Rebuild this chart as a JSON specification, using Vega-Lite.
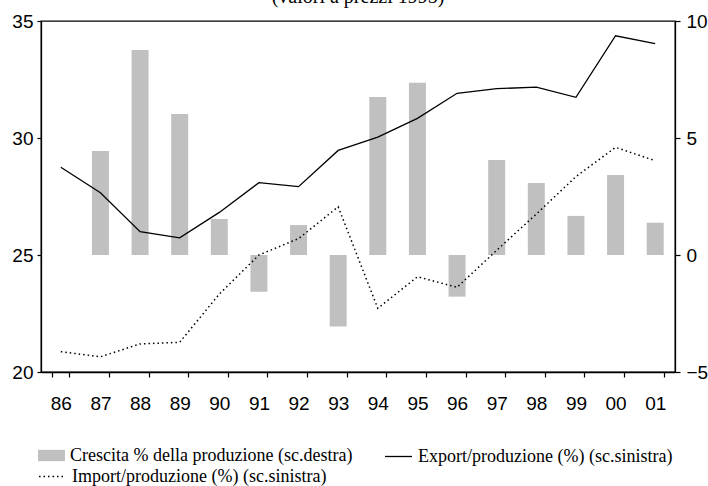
{
  "$schema": "https://vega.github.io/schema/vega-lite/v6.json",
  "width": 634,
  "height": 351,
  "autosize": {"type": "none"},
  "padding": {"left": 41, "top": 21, "right": 33, "bottom": 114},
  "background": "white",
  "title": {"text": "(valori a prezzi 1995)", "font": "Liberation Serif", "fontSize": 20, "fontWeight": "normal", "baseline": "alphabetic", "offset": 5, "dy": 16, "anchor": "middle", "color": "black"},
  "config": {
    "view": {"stroke": "black", "strokeWidth": 1.3},
    "axis": {"grid": false, "domainColor": "black", "domainWidth": 1.3, "tickColor": "black", "tickWidth": 1.2, "labelColor": "black", "labelFont": "Liberation Sans", "labelFontSize": 19, "title": null}
  },
  "data": {"values": [
    {"anno": "86", "crescita": null, "export": 28.75, "import": 20.87},
    {"anno": "87", "crescita": 4.44, "export": 27.66, "import": 20.65},
    {"anno": "88", "crescita": 8.76, "export": 26.0, "import": 21.2},
    {"anno": "89", "crescita": 6.03, "export": 25.73, "import": 21.27},
    {"anno": "90", "crescita": 1.54, "export": 26.82, "import": 23.33},
    {"anno": "91", "crescita": -1.57, "export": 28.09, "import": 25.0},
    {"anno": "92", "crescita": 1.28, "export": 27.92, "import": 25.7},
    {"anno": "93", "crescita": -3.06, "export": 29.47, "import": 27.06},
    {"anno": "94", "crescita": 6.75, "export": 30.04, "import": 22.72},
    {"anno": "95", "crescita": 7.36, "export": 30.84, "import": 24.07},
    {"anno": "96", "crescita": -1.78, "export": 31.91, "import": 23.62},
    {"anno": "97", "crescita": 4.06, "export": 32.11, "import": 25.2},
    {"anno": "98", "crescita": 3.08, "export": 32.17, "import": 26.75},
    {"anno": "99", "crescita": 1.67, "export": 31.74, "import": 28.35},
    {"anno": "00", "crescita": 3.42, "export": 34.37, "import": 29.6},
    {"anno": "01", "crescita": 1.38, "export": 34.03, "import": 29.03}
  ]},
  "encoding": {
    "x": {"field": "anno", "type": "ordinal", "sort": null,
      "scale": {"domain": ["86", "87", "88", "89", "90", "91", "92", "93", "94", "95", "96", "97", "98", "99", "00", "01"], "paddingInner": 0.571, "paddingOuter": 0.2855},
      "axis": {"labelAngle": 0, "tickBand": "extent", "tickSize": 5, "labelPadding": 17, "domain": true}}
  },
  "layer": [
    {
      "mark": {"type": "bar", "color": "#c0c0c0"},
      "encoding": {
        "y": {"field": "crescita", "type": "quantitative",
          "scale": {"domain": [-5, 10], "nice": false, "zero": false},
          "axis": {"orient": "right", "values": [-5, 0, 5, 10], "tickSize": 5, "labelPadding": 6}},
        "fill": {"datum": "Crescita % della produzione (sc.destra)", "type": "nominal",
          "scale": {"range": ["#c0c0c0"]},
          "legend": {"orient": "none", "legendX": -3, "legendY": 421, "title": null, "symbolType": "M-1,-0.42H1V0.42H-1Z", "symbolSize": 729, "symbolStrokeWidth": 0, "symbolOpacity": 1, "labelFont": "Liberation Serif", "labelFontSize": 18, "labelColor": "black", "labelOffset": 5, "padding": 0, "labelLimit": 0}}
      }
    },
    {
      "mark": {"type": "line", "strokeWidth": 1.3},
      "encoding": {
        "y": {"field": "export", "type": "quantitative",
          "scale": {"domain": [20, 35], "nice": false, "zero": false},
          "axis": {"orient": "left", "values": [20, 25, 30, 35], "tickSize": 4, "labelPadding": 4}},
        "stroke": {"datum": "Export/produzione (%) (sc.sinistra)", "type": "nominal",
          "scale": {"range": ["black"]},
          "legend": {"orient": "none", "legendX": 343, "legendY": 421, "title": null, "symbolType": "stroke", "symbolSize": 729, "symbolStrokeWidth": 1.3, "labelFont": "Liberation Serif", "labelFontSize": 18, "labelColor": "black", "labelOffset": 5, "padding": 0, "labelLimit": 0}}
      }
    },
    {
      "mark": {"type": "line", "strokeWidth": 1.5, "color": "black"},
      "encoding": {
        "y": {"field": "import", "type": "quantitative",
          "scale": {"domain": [20, 35], "nice": false, "zero": false},
          "axis": null},
        "strokeDash": {"datum": "Import/produzione (%) (sc.sinistra)", "type": "nominal",
          "scale": {"range": [[1.5, 3]]},
          "legend": {"orient": "none", "legendX": -3, "legendY": 441, "title": null, "symbolType": "stroke", "symbolSize": 729, "symbolStrokeColor": "black", "symbolStrokeWidth": 1.5, "labelFont": "Liberation Serif", "labelFontSize": 18, "labelColor": "black", "labelOffset": 5, "padding": 0, "labelLimit": 0}}
      }
    }
  ],
  "resolve": {"scale": {"y": "independent"}}
}
